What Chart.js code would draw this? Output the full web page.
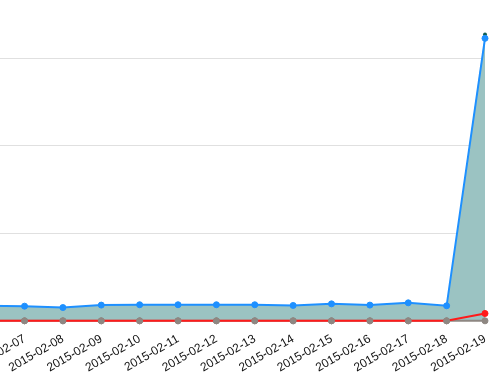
<!DOCTYPE html>
<html>
<head>
<meta charset="utf-8">
<script src="https://cdn.jsdelivr.net/npm/chart.js@4/dist/chart.umd.min.js"></script>
<style>
    html, body { margin: 0; padding: 0; background: #fff; overflow: hidden; }
    #frame { position: relative; width: 504px; height: 383px; overflow: hidden; }
    /* the chart is wider/taller than the window: only the right part is seen */
    #wrap { position: absolute; left: -70px; top: -34px; width: 574px; height: 412px; }
</style>
</head>
<body>
<div id="frame">
    <div id="wrap"><canvas id="chart"></canvas></div>
</div>
<script>
// Fechas (eje x)
const dates = [
    '2015-02-06', '2015-02-07', '2015-02-08', '2015-02-09', '2015-02-10',
    '2015-02-11', '2015-02-12', '2015-02-13', '2015-02-14', '2015-02-15',
    '2015-02-16', '2015-02-17', '2015-02-18', '2015-02-19'
];

// Series
const totalValues = [86, 84, 76, 90, 92, 92, 92, 92, 88, 97, 90, 103, 86, 1637];
const blueValues  = [86, 84, 76, 90, 92, 92, 92, 92, 88, 97, 90, 103, 86, 1615];
const redValues   = [0, 0, 0, 0, 0, 0, 0, 0, 0, 0, 0, 0, 0, 42];
const grayValues  = [0, 0, 0, 0, 0, 0, 0, 0, 0, 0, 0, 0, 0, 0];

// Marcas del eje y (sin etiquetas visibles)
const yTicks = [0, 500, 1000, 1500, 2000];

const colors = {
    blue: '#1e90ff',
    red: '#ff1a1a',
    gray: '#8e8782',
    dark: '#0e5e55',
    fill: '#9bc3c2',
    grid: '#e0e0e0',
    text: '#111111'
};

Chart.defaults.font.family = "'Liberation Sans', Arial, sans-serif";
Chart.defaults.font.size = 12;
Chart.defaults.color = colors.text;

const ctx = document.getElementById('chart').getContext('2d');

new Chart(ctx, {
    type: 'line',
    data: {
        labels: dates,
        datasets: [
            {
                label: 'Gray',
                data: grayValues,
                borderColor: colors.gray,
                backgroundColor: colors.gray,
                borderWidth: 2,
                pointRadius: 3,
                pointBorderWidth: 1,
                pointBackgroundColor: colors.gray,
                pointBorderColor: colors.gray,
                tension: 0,
                fill: false,
                clip: 6,
                order: 2
            },
            {
                label: 'Red',
                data: redValues,
                borderColor: colors.red,
                borderWidth: 2,
                pointRadius: 3,
                pointBorderWidth: 1,
                // los puntos en cero se ven grises
                pointBackgroundColor: c => (c.raw === 0 ? colors.gray : colors.red),
                pointBorderColor: c => (c.raw === 0 ? colors.gray : colors.red),
                tension: 0,
                fill: false,
                clip: 6,
                order: 1
            },
            {
                label: 'Blue',
                data: blueValues,
                borderColor: colors.blue,
                borderWidth: 2,
                pointRadius: 3,
                pointBorderWidth: 1,
                pointBackgroundColor: colors.blue,
                pointBorderColor: colors.blue,
                tension: 0,
                fill: false,
                clip: 6,
                order: 3
            },
            {
                label: 'Total',
                data: totalValues,
                borderColor: 'rgba(0,0,0,0)',
                backgroundColor: colors.fill,
                borderWidth: 0,
                pointRadius: 2,
                pointBorderWidth: 0,
                pointBackgroundColor: colors.dark,
                tension: 0,
                fill: 'origin',
                clip: 6,
                order: 4
            }
        ]
    },
    options: {
        responsive: true,
        maintainAspectRatio: false,
        animation: false,
        layout: { padding: { right: 19, bottom: 0, top: 0, left: 0 } },
        plugins: {
            legend: { display: false },
            tooltip: { enabled: false }
        },
        scales: {
            x: {
                grid: { display: false },
                border: { display: false },
                ticks: {
                    autoSkip: false,
                    minRotation: 30,
                    maxRotation: 30,
                    color: colors.text,
                    font: { size: 12 }
                }
            },
            y: {
                min: yTicks[0],
                max: yTicks[yTicks.length - 1],
                afterBuildTicks: axis => {
                    axis.ticks = yTicks.map(v => ({ value: v }));
                },
                grid: { color: colors.grid, lineWidth: 1, drawTicks: false },
                border: { display: false },
                ticks: { display: false }
            }
        }
    }
});
</script>
</body>
</html>
